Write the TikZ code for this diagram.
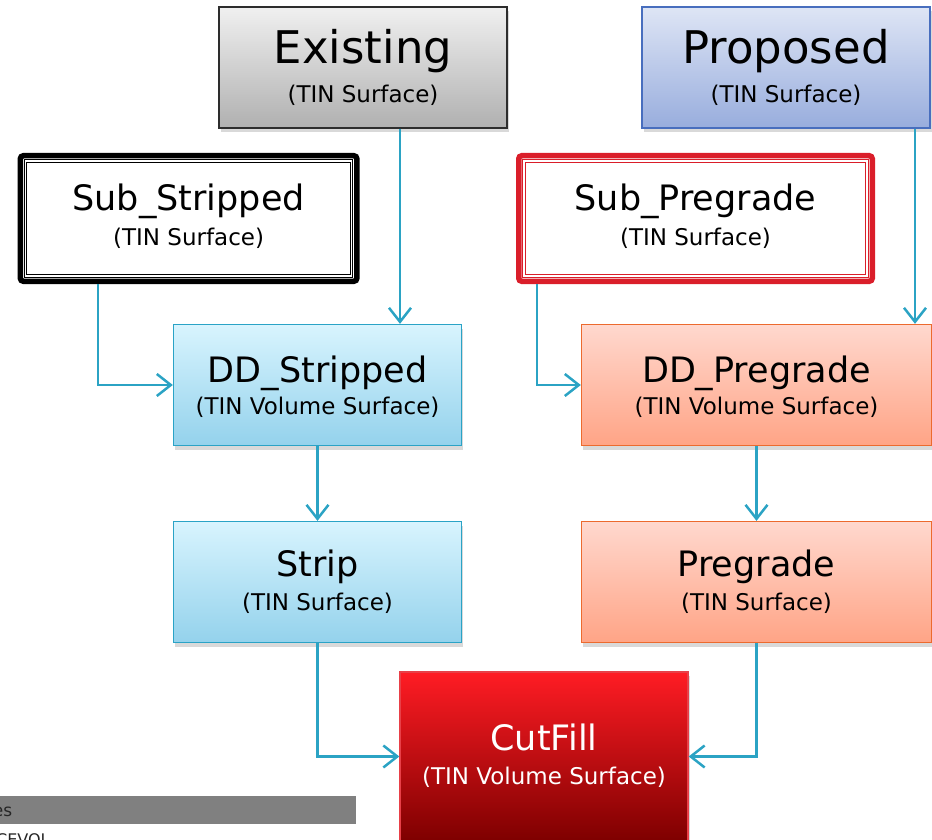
\documentclass[tikz,border=0pt]{standalone}
\usepackage{fontspec}
\setmainfont{DejaVu Sans}
\usetikzlibrary{arrows.meta,shadows}

\definecolor{flowline}{RGB}{43,163,196}
\definecolor{greyline}{RGB}{45,45,45}
\definecolor{greytop}{RGB}{240,240,240}
\definecolor{greybot}{RGB}{176,176,176}
\definecolor{propline}{RGB}{72,110,190}
\definecolor{proptop}{RGB}{222,229,245}
\definecolor{propbot}{RGB}{152,173,221}
\definecolor{blueline}{RGB}{42,163,198}
\definecolor{bluetop}{RGB}{216,244,254}
\definecolor{bluebot}{RGB}{148,210,236}
\definecolor{salmline}{RGB}{236,106,46}
\definecolor{salmtop}{RGB}{255,216,206}
\definecolor{salmbot}{RGB}{255,164,134}
\definecolor{cutline}{RGB}{232,64,72}
\definecolor{cuttop}{RGB}{255,28,36}
\definecolor{cutbot}{RGB}{126,0,0}
\definecolor{subred}{RGB}{218,30,42}
\definecolor{bargrey}{RGB}{128,128,128}

\begin{document}
\begin{tikzpicture}[x=1pt,y=-1pt,
    box/.style={rectangle, minimum width=288pt, minimum height=121pt, line width=1.3pt, inner sep=0pt,
        drop shadow={shadow xshift=1.5pt, shadow yshift=-4pt, opacity=0.3}},
    greybox/.style={box, draw=greyline, top color=greytop, bottom color=greybot},
    propbox/.style={box, draw=propline, top color=proptop, bottom color=propbot},
    bluebox/.style={box, draw=blueline, top color=bluetop, bottom color=bluebot},
    salmbox/.style={box, draw=salmline, top color=salmtop, bottom color=salmbot},
    cutbox/.style={box, draw=cutline, top color=cuttop, bottom color=cutbot},
    subbox/.style={rectangle, fill=white, line width=5.5pt, rounded corners=3pt, inner sep=0pt,
        minimum height=125.5pt},
    innerline/.style={line width=1pt, double=white, double distance=1.4pt},
    bigtitle/.style={anchor=base, inner sep=0pt, font=\fontsize{45}{54}\selectfont},
    title/.style={anchor=base, inner sep=0pt, font=\fontsize{35}{42}\selectfont},
    subtitle/.style={anchor=base, inner sep=0pt, font=\fontsize{23}{28}\selectfont},
    flow/.style={draw=flowline, line width=2.5pt, line join=miter,
        -{Straight Barb[length=14pt,width=22pt,line width=2.5pt]}}
]
    \useasboundingbox (0,0) rectangle (932,840);
    \clip (0,0) rectangle (932,840);

    % top row
    \node[greybox] (exist) at (363,67.5) {};
    \node[bigtitle] (existT) at (363,64) {Existing};
    \node[subtitle] (existS) at (363,103) {(TIN Surface)};

    \node[propbox] (prop) at (786,67.5) {};
    \node[bigtitle] (propT) at (786,64) {Proposed};
    \node[subtitle] (propS) at (786,103) {(TIN Surface)};

    % sub surfaces
    \node[subbox, draw=black, minimum width=336.5pt] (subs) at (188.6,218.5) {};
    \draw[innerline, draw=black] ([xshift=8pt,yshift=-8pt]subs.north west) rectangle ([xshift=-8pt,yshift=8pt]subs.south east);
    \node[title] (subsT) at (188.6,210.5) {Sub\_Stripped};
    \node[subtitle] (subsS) at (188.6,245) {(TIN Surface)};

    \node[subbox, draw=subred, minimum width=353.5pt] (subp) at (695.5,218.5) {};
    \draw[innerline, draw=subred] ([xshift=8pt,yshift=-8pt]subp.north west) rectangle ([xshift=-8pt,yshift=8pt]subp.south east);
    \node[title] (subpT) at (695.5,211) {Sub\_Pregrade};
    \node[subtitle] (subpS) at (695.5,245) {(TIN Surface)};

    % volume surfaces
    \node[bluebox] (dds) at (317.5,385) {};
    \node[title] (ddsT) at (317.5,382) {DD\_Stripped};
    \node[subtitle] (ddsS) at (317.5,414) {(TIN Volume Surface)};

    \node[salmbox, minimum width=350pt] (ddp) at (756.5,385) {};
    \node[title] (ddpT) at (756.5,382) {DD\_Pregrade};
    \node[subtitle] (ddpS) at (756.5,414) {(TIN Volume Surface)};

    % strip / pregrade
    \node[bluebox] (strip) at (317.5,582) {};
    \node[title] (stripT) at (317.5,576) {Strip};
    \node[subtitle] (stripS) at (317.5,610) {(TIN Surface)};

    \node[salmbox, minimum width=350pt] (preg) at (756.5,582) {};
    \node[title] (pregT) at (756.5,576) {Pregrade};
    \node[subtitle] (pregS) at (756.5,610) {(TIN Surface)};

    % result
    \node[cutbox, minimum height=169pt] (cut) at (544,756.5) {};
    \node[title, text=white] (cutT) at (544,750.5) {CutFill};
    \node[subtitle, text=white] (cutS) at (544,784) {(TIN Volume Surface)};

    % connectors
    \draw[flow] ([xshift=82.5pt]dds.north |- exist.south) -- ([xshift=82.5pt]dds.north);
    \draw[flow] ([xshift=-90.6pt]subs.south) |- (dds.west);
    \draw[flow] ([xshift=158.5pt]ddp.north |- prop.south) -- ([xshift=158.5pt]ddp.north);
    \draw[flow] ([xshift=-158.5pt]subp.south) |- (ddp.west);
    \draw[flow] (dds.south) -- (strip.north);
    \draw[flow] (ddp.south) -- (preg.north);
    \draw[flow] (strip.south) |- (cut.west);
    \draw[flow] (preg.south) |- (cut.east);

    % cut-off window strip, lower left
    \fill[bargrey] (0,796) rectangle (356,824);
    \node[anchor=base east, inner sep=0pt, text=black!85, font=\fontsize{17}{20}\selectfont] (barT) at (12.5,816) {es};
    \node[anchor=base west, inner sep=0pt, text=black!85, font=\fontsize{16}{19}\selectfont] (barU) at (-4,845) {CEVOL};
\end{tikzpicture}
\end{document}
